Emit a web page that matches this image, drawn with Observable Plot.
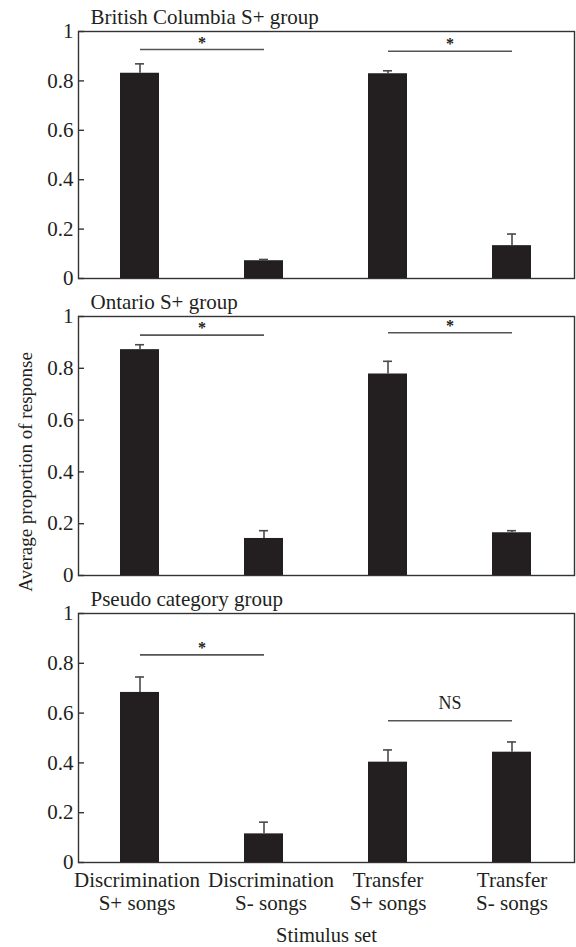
<!DOCTYPE html>
<html>
<head>
<meta charset="utf-8">
<script src="https://cdn.jsdelivr.net/npm/d3@7"></script>
<script src="https://cdn.jsdelivr.net/npm/@observablehq/plot@0.6"></script>
<style>
  html, body { margin: 0; padding: 0; background: #ffffff; }
  #root { position: relative; width: 576px; height: 947px; overflow: hidden; background: #ffffff; font-family: "Liberation Serif"; }
  .panel { position: absolute; left: 0; }
  #ylab { position: absolute; left: 0; top: 0; pointer-events: none; }
  svg text { font-family: "Liberation Serif"; }
</style>
</head>
<body>
<div id="root"></div>
<script>
// ---- data ----
const categories = ["DS+", "DS-", "TS+", "TS-"];
const categoryLabels = ["Discrimination\nS+ songs", "Discrimination\nS- songs", "Transfer\nS+ songs", "Transfer\nS- songs"];
const panelTitles = ["British Columbia S+ group", "Ontario S+ group", "Pseudo category group"];
const yTicks = [0, 0.2, 0.4, 0.6, 0.8, 1];

const bcMeans = [0.831, 0.072, 0.829, 0.133];
const bcErrors = [0.038, 0.005, 0.012, 0.047];
const onMeans = [0.872, 0.143, 0.778, 0.165];
const onErrors = [0.019, 0.030, 0.049, 0.008];
const psMeans = [0.683, 0.115, 0.403, 0.443];
const psErrors = [0.062, 0.047, 0.049, 0.041];

const sigPairs = [["DS+", "DS-"], ["TS+", "TS-"]];
const bcSigY = [0.927, 0.920];
const onSigY = [0.928, 0.937];
const psSigY = [0.834, 0.569];
const bcSigLabels = ["*", "*"];
const onSigLabels = ["*", "*"];
const psSigLabels = ["*", "NS"];

const xAxisTitle = "Stimulus set";
const yAxisTitle = "Average proportion of response";

// ---- drawing ----
const FONT = "Liberation Serif";
const INK = "#231f20";
const W = 576, ML = 78, MR = 2;
const plotW = W - ML - MR;
const padInner = 0.685, padOuter = 0.3425;
const step = plotW / (categories.length - padInner + 2 * padOuter);
const xLabelFormat = c => categoryLabels[categories.indexOf(c)];

function panel({title, means, errors, sigY, sigLabels, top, height, marginTop, marginBottom, showX}) {
  const data = categories.map((c, i) => ({c, v: means[i], e: errors[i]}));
  const sig = sigPairs.map((p, i) => ({a: p[0], b: p[1], y: sigY[i], label: sigLabels[i]}));
  const marks = [
    Plot.frame({stroke: "#333", strokeWidth: 1.4}),
    Plot.barY(data, {x: "c", y: "v", fill: INK}),
    Plot.ruleX(data, {x: "c", y1: "v", y2: d => d.v + d.e, stroke: "#4a4a4a", strokeWidth: 1.6}),
    Plot.tickY(data, {x: "c", y: d => d.v + d.e, stroke: "#4a4a4a", strokeWidth: 1.6, insetLeft: 15, insetRight: 15}),
    Plot.link(sig, {x1: "a", x2: "b", y1: "y", y2: "y", stroke: "#555", strokeWidth: 1.6}),
    Plot.text(sig.filter(d => d.label === "*"), {x: "a", y: "y", text: "label", dx: step / 2, dy: -2, lineAnchor: "bottom", fontSize: 16, fontWeight: "bold", fontFamily: FONT, fill: INK}),
    Plot.text(sig.filter(d => d.label !== "*"), {x: "a", y: "y", text: "label", dx: step / 2, dy: -12, lineAnchor: "bottom", fontSize: 18, fontFamily: FONT, fill: INK}),
    Plot.ruleY(yTicks, {y: d => d, insetRight: plotW - 6, stroke: "#333", strokeWidth: 1.4}),
    Plot.axisY({ticks: yTicks, tickSize: 0, tickPadding: 5, tickFormat: d => String(d), label: null, fontSize: 21, fontFamily: FONT, fill: INK}),
    Plot.text([title], {text: d => d, frameAnchor: "top-left", dx: 12, dy: -8, lineAnchor: "bottom", textAnchor: "start", fontSize: 21, fontFamily: FONT, fill: INK})
  ];
  if (showX) {
    const xOpts = {tickSize: 0, tickPadding: 8, tickFormat: xLabelFormat, label: null, fontSize: 21, fontFamily: FONT, lineHeight: 1.11, fill: INK};
    marks.push(Plot.axisX({...xOpts, ticks: [categories[0]], dx: -3}));
    marks.push(Plot.axisX({...xOpts, ticks: [categories[1]], dx: 7}));
    marks.push(Plot.axisX({...xOpts, ticks: categories.slice(2)}));
    marks.push(Plot.text([xAxisTitle], {text: d => d, frameAnchor: "bottom", dy: 79, lineAnchor: "bottom", fontSize: 20.5, fontFamily: FONT, fill: INK}));
  }
  const chart = Plot.plot({
    width: W,
    height,
    marginLeft: ML,
    marginRight: MR,
    marginTop,
    marginBottom,
    style: {fontFamily: FONT, fontSize: "20px", color: INK, background: "white", overflow: "visible"},
    x: {domain: categories, paddingInner: padInner, paddingOuter: padOuter, axis: showX ? undefined : null},
    y: {domain: [0, 1], axis: null},
    marks
  });
  chart.classList.add("panel");
  chart.style.top = top + "px";
  return chart;
}

const root = document.getElementById("root");
root.appendChild(panel({title: panelTitles[0], means: bcMeans, errors: bcErrors, sigY: bcSigY, sigLabels: bcSigLabels, top: 0, height: 290, marginTop: 31, marginBottom: 12, showX: false}));
root.appendChild(panel({title: panelTitles[1], means: onMeans, errors: onErrors, sigY: onSigY, sigLabels: onSigLabels, top: 290, height: 297, marginTop: 26, marginBottom: 12, showX: false}));
root.appendChild(panel({title: panelTitles[2], means: psMeans, errors: psErrors, sigY: psSigY, sigLabels: psSigLabels, top: 587, height: 360, marginTop: 26, marginBottom: 85, showX: true}));

// shared y-axis title
const ns = "http://www.w3.org/2000/svg";
const svg = document.createElementNS(ns, "svg");
svg.setAttribute("id", "ylab");
svg.setAttribute("width", W);
svg.setAttribute("height", 947);
const t = document.createElementNS(ns, "text");
t.setAttribute("transform", "translate(32,472) rotate(-90)");
t.setAttribute("text-anchor", "middle");
t.setAttribute("font-family", FONT);
t.setAttribute("font-size", "19");
t.setAttribute("fill", INK);
t.textContent = yAxisTitle;
svg.appendChild(t);
root.appendChild(svg);
</script>
</body>
</html>
